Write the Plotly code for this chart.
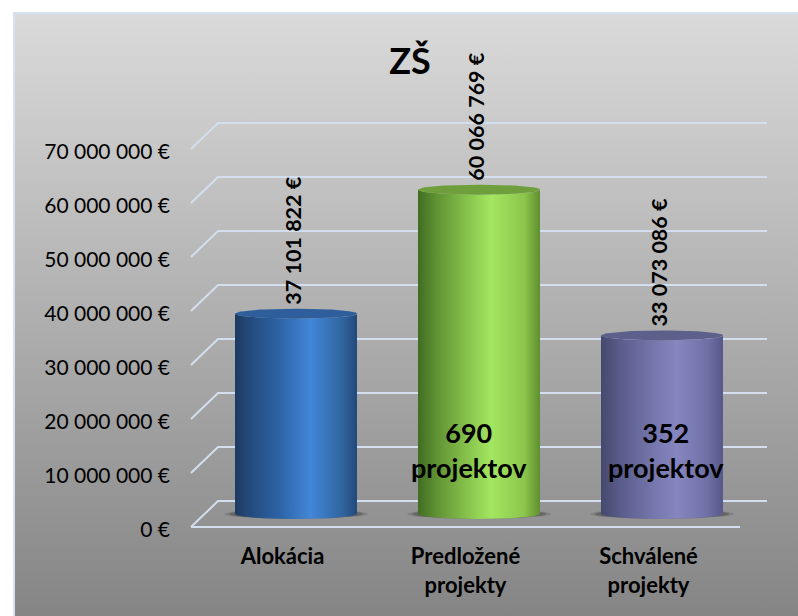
import numpy as np
import plotly.graph_objects as go

# ---- data ----
categories = ["Alokácia", "Predložené<br>projekty", "Schválené<br>projekty"]
values = [37101822, 60066769, 33073086]
project_counts = [None, 690, 352]
project_dx = [0, -0.055, 0.02]
y_ticks = [0, 10000000, 20000000, 30000000, 40000000, 50000000, 60000000, 70000000]
y_tick_labels = ["0 €", "10 000 000 €", "20 000 000 €", "30 000 000 €",
                 "40 000 000 €", "50 000 000 €", "60 000 000 €", "70 000 000 €"]
title_text = "ZŠ"

# ---- pseudo-3D geometry ----
W, H = 798, 616
PX_X = 183.0            # px per category
PX_Y = 5.4e-6           # px per unit of value
X0_PX, Y0_PX = 282.5, 527.0
DEPTH_X = 27 / PX_X
DEPTH_Y = 26 / PX_Y
RX = 61 / PX_X
RY = 5 / PX_Y
x_range = [-X0_PX / PX_X, (W - X0_PX) / PX_X]
y_range = [-(H - Y0_PX) / PX_Y, Y0_PX / PX_Y]
FONT = "Lato"

body_scales = [
    [[0, "#1d3a60"], [0.12, "#244a7c"], [0.35, "#2c62a4"], [0.62, "#4286d8"], [0.88, "#30659f"], [1, "#22497a"]],
    [[0, "#3f6d22"], [0.15, "#5f9233"], [0.4, "#86c24c"], [0.6, "#a3e660"], [0.87, "#8cc64c"], [1, "#5f8f30"]],
    [[0, "#45486e"], [0.15, "#595b88"], [0.4, "#7274a9"], [0.62, "#8686c0"], [0.87, "#6f71a6"], [1, "#56588a"]],
]
top_colors = ["#2e5f9c", "#6f9f3d", "#5d608b"]

fig = go.Figure()

# panel background
px0 = (14 - X0_PX) / PX_X
py1 = (Y0_PX - 13) / PX_Y
fig.add_trace(go.Scatter(
    x=[px0, x_range[1] + 0.05, x_range[1] + 0.05, px0, px0],
    y=[y_range[0] - 1e6, y_range[0] - 1e6, py1, py1, y_range[0] - 1e6],
    mode="lines", fill="toself",
    line=dict(color="#d6e1f1", width=2),
    fillgradient=dict(type="vertical",
                      colorscale=[[0, "#848484"], [1, "#dadada"]]),
    hoverinfo="skip", showlegend=False))

# gridlines with depth
GRID = dict(color="#d3deee", width=2)
for v in y_ticks:
    xs = [-0.5, -0.5 + DEPTH_X, 2.5 + DEPTH_X]
    ys = [v, v + DEPTH_Y, v + DEPTH_Y]
    fig.add_trace(go.Scatter(x=xs, y=ys, mode="lines", line=GRID,
                             hoverinfo="skip", showlegend=False))
fig.add_trace(go.Scatter(x=[-0.5, 2.5], y=[0, 0], mode="lines", line=GRID,
                         hoverinfo="skip", showlegend=False))

# cylinders
t_front = np.linspace(np.pi, 2 * np.pi, 61)
t_full = np.linspace(0, 2 * np.pi, 121)
for i, v in enumerate(values):
    cx = i + DEPTH_X / 2
    base = DEPTH_Y / 2
    top = v + base
    # soft shadow on the floor
    for k, alpha in ((1.18, 0.18), (1.1, 0.28)):
        fig.add_trace(go.Scatter(
            x=cx + RX * k * np.cos(t_full), y=base + RY * 0.95 * np.sin(t_full),
            mode="lines", fill="toself", line=dict(width=0),
            fillcolor=f"rgba(40,40,40,{alpha})", hoverinfo="skip", showlegend=False))
    # body
    bx = np.concatenate([cx + RX * np.cos(t_front), cx + RX * np.cos(t_front[::-1])])
    by = np.concatenate([base + RY * np.sin(t_front), top + RY * np.sin(t_front[::-1])])
    fig.add_trace(go.Scatter(
        x=bx, y=by, mode="lines", fill="toself", line=dict(width=0),
        fillgradient=dict(type="horizontal", colorscale=body_scales[i]),
        hoverinfo="skip", showlegend=False))
    # top cap
    fig.add_trace(go.Scatter(
        x=cx + RX * np.cos(t_full), y=top + RY * np.sin(t_full),
        mode="lines", fill="toself", line=dict(width=0),
        fillcolor=top_colors[i], hoverinfo="skip", showlegend=False))

# value labels
for i, v in enumerate(values):
    fig.add_annotation(
        x=i + DEPTH_X / 2, y=v + DEPTH_Y / 2 + RY, xref="x", yref="y",
        text="<b>" + f"{v:,}".replace(",", " ") + " €</b>", textangle=-90,
        showarrow=False, xanchor="center", yanchor="bottom", xshift=-3, yshift=2,
        font=dict(family=FONT, size=21.5, color="#000000"))

# project-count labels
for i, n in enumerate(project_counts):
    if n is None:
        continue
    fig.add_annotation(
        x=i + DEPTH_X / 2 + project_dx[i], y=11.9e6 + DEPTH_Y / 2,
        xref="x", yref="y", text=f"<b>{n}<br>projektov</b>",
        showarrow=False, xanchor="center", yanchor="middle", align="center",
        font=dict(family=FONT, size=27, color="#000000"))

fig.update_layout(
    width=W, height=H, autosize=False,
    margin=dict(l=0, r=0, t=0, b=0),
    paper_bgcolor="#ffffff", plot_bgcolor="rgba(0,0,0,0)",
    showlegend=False,
    font=dict(family=FONT, color="#000000"),
    title=dict(text=f"<b>{title_text}</b>", x=410 / W, xanchor="center",
               y=1 - 61 / H, yanchor="middle",
               font=dict(family=FONT, size=36, color="#000000")),
    xaxis=dict(range=x_range, domain=[0, 1], anchor="free",
               position=(H - 541) / H,
               tickmode="array", tickvals=[0, 1, 2],
               ticktext=[f"<b>{c}</b>".replace("<br>", "</b><br><b>") for c in categories],
               showgrid=False, zeroline=False, showline=False, ticks="",
               tickfont=dict(family=FONT, size=22, color="#000000")),
    yaxis=dict(range=y_range, domain=[0, 1], anchor="free",
               position=170 / W, ticklabelshift=3,
               tickmode="array", tickvals=y_ticks, ticktext=y_tick_labels,
               showgrid=False, zeroline=False, showline=False, ticks="",
               tickfont=dict(family=FONT, size=21, color="#000000")),
)

fig.write_html("out.html", config=dict(displayModeBar=False),
               post_script="document.body.style.margin='0';")
